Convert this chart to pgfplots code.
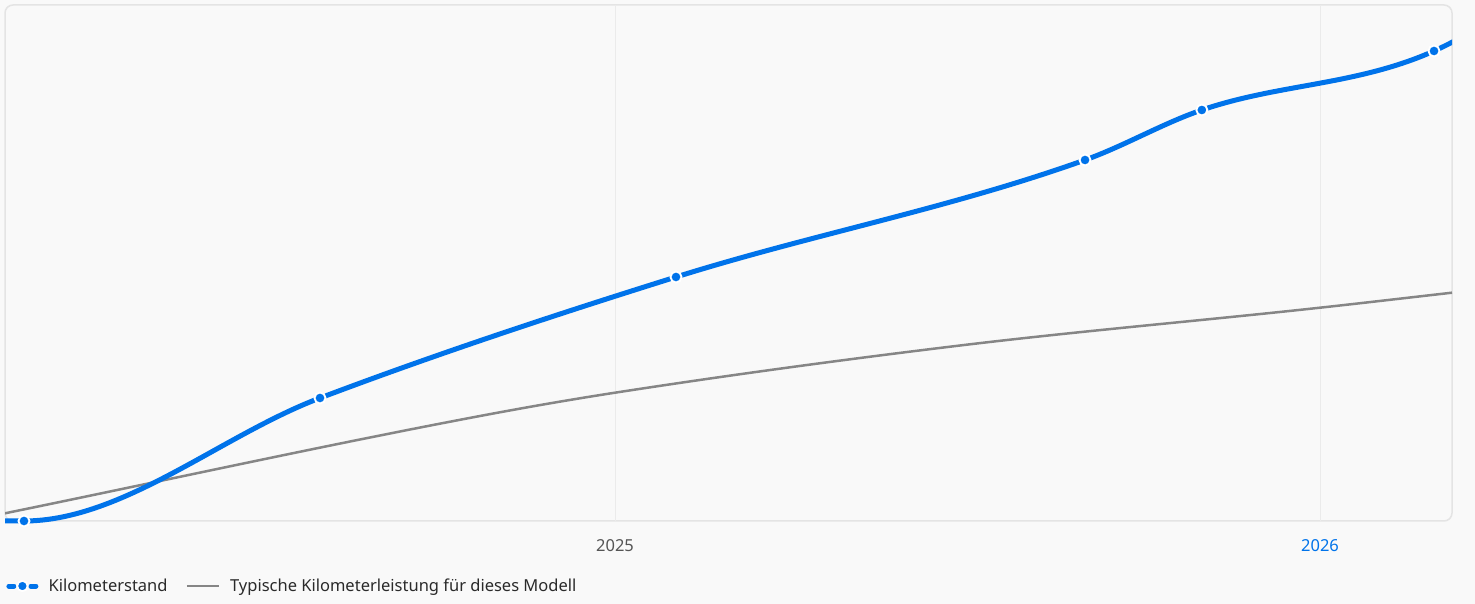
\documentclass[border=0pt]{standalone}
\usepackage{fontspec}
\setmainfont{Noto Sans}
\usepackage{pgfplots}
\pgfplotsset{compat=1.18}
\definecolor{bg}{HTML}{F9F9F9}
\definecolor{kmblue}{HTML}{0073EA}
\definecolor{typgray}{HTML}{868686}
\definecolor{bordercol}{HTML}{E4E4E4}
\definecolor{gridcol}{HTML}{EBEBEB}
\definecolor{ticktext}{HTML}{555555}
\definecolor{legtext}{HTML}{2A2A2A}

% monotone cubic interpolation plot handler (as used by the original chart)
\makeatletter
\def\mono@pointfirst#1{%
  \pgf@process{#1}%
  \xdef\mono@xa{\pgf@sys@tonumber\pgf@x}\xdef\mono@ya{\pgf@sys@tonumber\pgf@y}%
  \pgfpathmoveto{\pgfqpoint{\mono@xa pt}{\mono@ya pt}}%
  \global\let\pgf@plotstreampoint=\mono@pointsecond
  \global\let\mono@state=\mono@one}
\def\mono@pointsecond#1{%
  \pgf@process{#1}%
  \xdef\mono@xb{\pgf@sys@tonumber\pgf@x}\xdef\mono@yb{\pgf@sys@tonumber\pgf@y}%
  \pgfmathparse{(\mono@yb-\mono@ya)/(\mono@xb-\mono@xa)}\xdef\mono@da{\pgfmathresult}%
  \global\let\mono@ma=\mono@da
  \global\let\pgf@plotstreampoint=\mono@pointgeneral
  \global\let\mono@state=\mono@two}
\def\mono@pointgeneral#1{%
  \pgf@process{#1}%
  \xdef\mono@xc{\pgf@sys@tonumber\pgf@x}\xdef\mono@yc{\pgf@sys@tonumber\pgf@y}%
  \pgfmathparse{(\mono@yc-\mono@yb)/(\mono@xc-\mono@xb)}\xdef\mono@db{\pgfmathresult}%
  \pgfmathparse{(\mono@da*\mono@db>0) ? (\mono@da+\mono@db)/2 : 0}\xdef\mono@mb{\pgfmathresult}%
  \mono@segment
  \global\let\mono@xa=\mono@xb \global\let\mono@ya=\mono@yb
  \global\let\mono@xb=\mono@xc \global\let\mono@yb=\mono@yc
  \global\let\mono@da=\mono@db \global\let\mono@ma=\mono@mb}
\def\mono@segment{%
  \pgfmathparse{abs(\mono@da)<0.0005 ? 1 : 0}%
  \ifdim\pgfmathresult pt>0.5pt
    \gdef\mono@ma{0}\gdef\mono@mb{0}%
  \else
    \pgfmathparse{(\mono@ma/\mono@da)^2+(\mono@mb/\mono@da)^2}\let\mono@sq=\pgfmathresult
    \ifdim\mono@sq pt>9pt
      \pgfmathparse{3/sqrt(\mono@sq)}\let\mono@tau=\pgfmathresult
      \pgfmathparse{\mono@ma*\mono@tau}\xdef\mono@ma{\pgfmathresult}%
      \pgfmathparse{\mono@mb*\mono@tau}\xdef\mono@mb{\pgfmathresult}%
    \fi
  \fi
  \pgfmathparse{(\mono@xb-\mono@xa)/3}\let\mono@dx=\pgfmathresult
  \pgfmathparse{\mono@xa+\mono@dx}\let\mono@cax=\pgfmathresult
  \pgfmathparse{\mono@ya+\mono@ma*\mono@dx}\let\mono@cay=\pgfmathresult
  \pgfmathparse{\mono@xb-\mono@dx}\let\mono@cbx=\pgfmathresult
  \pgfmathparse{\mono@yb-\mono@mb*\mono@dx}\let\mono@cby=\pgfmathresult
  \pgfpathcurveto{\pgfqpoint{\mono@cax pt}{\mono@cay pt}}%
                 {\pgfqpoint{\mono@cbx pt}{\mono@cby pt}}%
                 {\pgfqpoint{\mono@xb pt}{\mono@yb pt}}}
\def\mono@one{1}\def\mono@two{2}
\def\mono@end{%
  \ifx\mono@state\mono@two
    \global\let\mono@mb=\mono@da
    \mono@segment
  \fi
  \global\let\mono@state=\relax}
\def\pgfplothandlermonotone{%
  \def\pgf@plotstreamstart{%
    \global\let\mono@state=\relax
    \global\let\pgf@plotstreampoint=\mono@pointfirst
    \global\let\pgf@plotstreampointoutlier=\pgfutil@gobble
    \global\let\pgf@plotstreampointundefined=\pgfutil@gobble
    \global\let\pgf@plotstreamnewdataset=\pgfutil@empty
    \global\let\pgf@plotstreamspecial=\pgfutil@gobble
    \global\let\pgf@plotstreamend=\mono@end}}
\tikzset{monotone/.code={\let\tikz@plot@handler=\pgfplothandlermonotone}}
\makeatother

\begin{document}
\begin{tikzpicture}[x=1pt,y=1pt]
\useasboundingbox (0,0) rectangle (1475,604);
\fill[bg] (0,0) rectangle (1475,604);
\draw[bordercol, line width=1.5pt, rounded corners=8pt] (5,83) rectangle (1452,599);
\begin{axis}[
  at={(5pt,75pt)}, anchor=south west,
  scale only axis, width=1447pt, height=524pt,
  xmin=2024.13475, xmax=2026.18723,
  ymin=-8, ymax=516,
  axis line style={draw=none},
  ytick=\empty,
  xtick={2025,2026},
  xticklabels={\textcolor{ticktext}{2025},\textcolor{kmblue}{2026}},
  major tick length=0pt,
  xticklabel style={anchor=center, yshift=-17pt, font=\fontsize{16.5}{19}\selectfont},
  legend columns=2,
  legend style={draw=none, fill=none, at={(axis description cs:0,-0.1088)}, anchor=west,
    xshift=-3pt,
    font=\fontsize{16.5}{19}\selectfont, text=legtext, nodes={inner sep=0pt},
    /tikz/every odd column/.append style={column sep=10pt},
    /tikz/every even column/.append style={column sep=18pt}},
]
\addlegendimage{legend image code/.code={
  \path (-1pt,0pt) (32pt,0pt);
  \draw[kmblue, line width=5pt, line cap=round] (2.5pt,0pt) -- (7.5pt,0pt);
  \draw[kmblue, line width=5pt, line cap=round] (24.5pt,0pt) -- (29.5pt,0pt);
  \filldraw[fill=kmblue, draw=white, line width=1.8pt] (16pt,0pt) circle (5.2pt);}}
\addlegendentry{Kilometerstand}
\addlegendimage{legend image code/.code={
  \path (0pt,0pt) (32pt,0pt);
  \draw[typgray, line width=2.5pt] (0pt,0pt) -- (32pt,0pt);}}
\addlegendentry{Typische Kilometerleistung für dieses Modell}

\draw[gridcol, line width=1pt] (axis cs:2025,0) -- (axis cs:2025,516);
\draw[gridcol, line width=1pt] (axis cs:2026,0) -- (axis cs:2026,516);

\addplot[typgray, line width=2.5pt, monotone, forget plot] coordinates {
  (2024.13475,7.7)
  (2024.80851,105)
  (2025.00000,128.3)
  (2025.48936,175.5)
  (2026.00000,213.3)
  (2026.18723,228.3)
};

\addplot[kmblue, line width=5pt, monotone,
  mark=*, mark size=5.5pt, mark indices={1,2,3,4,5,6},
  mark options={fill=kmblue, draw=white, line width=1.9pt}, forget plot] coordinates {
  (2023.9858,0)
  (2024.16170,0)
  (2024.58156,123)
  (2025.08652,244)
  (2025.66667,361)
  (2025.83239,411)
  (2026.16170,470)
  (2026.39716,576)
};
\end{axis}
\end{tikzpicture}
\end{document}
